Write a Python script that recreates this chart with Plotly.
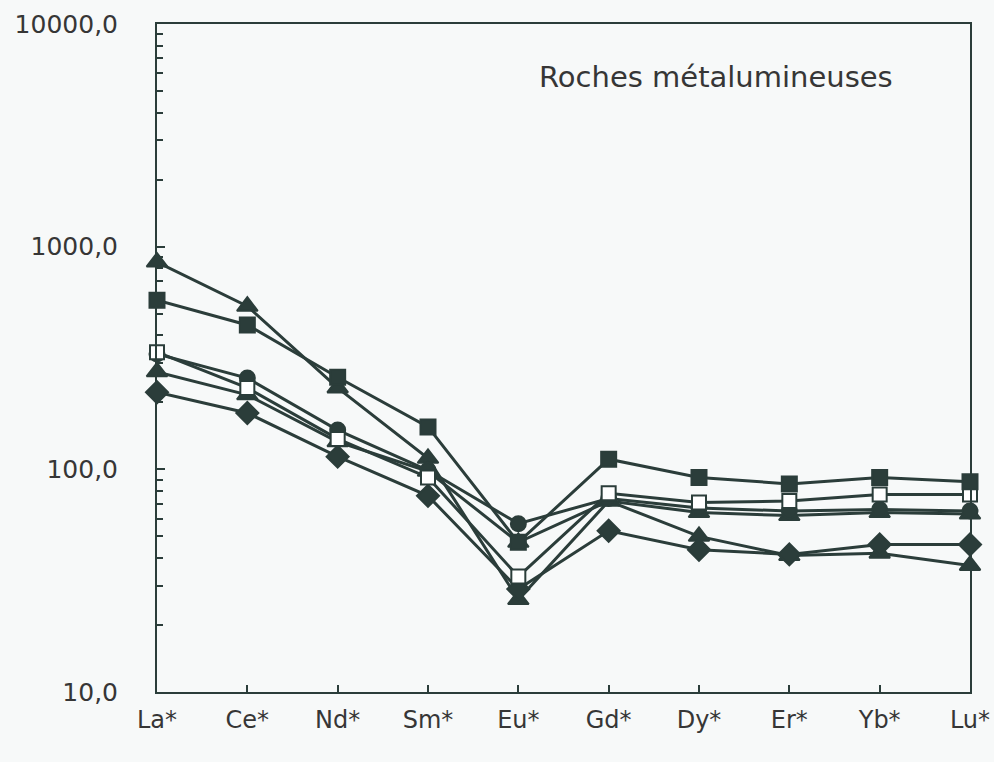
import plotly.graph_objects as go

elements = ["La*", "Ce*", "Nd*", "Sm*", "Eu*", "Gd*", "Dy*", "Er*", "Yb*", "Lu*"]

# chondrite-normalised REE
tri_high = [853, 540, 232, 112, 26, 72, 50, 41, 42, 37]
sq_filled = [575, 445, 259, 155, 47, 111, 92, 86, 92, 88]
sq_open = [336, 232, 137, 92, 33, 78, 71, 72, 77, 77]
circle = [330, 257, 150, 99, 57, 74, 67, 65, 66, 65]
tri_low = [274, 216, 133, 98, 47, 72, 64, 62, 64, 63]
diamond = [222, 179, 114, 76, 29, 53, 43.5, 41.5, 46, 46]

ytick_vals = [10, 100, 1000, 10000]
ytick_text = ["10,0", "100,0", "1000,0", "10000,0"]

ink = "#2b3d3a"
text_col = "#363636"
font_family = "DejaVu Sans, sans-serif"

series = [
    ("triangle A", tri_high, "triangle-up", 18, ink),
    ("triangle B", tri_low, "triangle-up", 18, ink),
    ("diamond", diamond, "diamond", 17, ink),
    ("circle", circle, "circle", 15, ink),
    ("open square", sq_open, "square", 14, "white"),
    ("filled square", sq_filled, "square", 15, ink),
]

fig = go.Figure()
for name, vals, sym, size, fill in series:
    fig.add_trace(go.Scatter(
        x=elements,
        y=vals,
        name=name,
        mode="lines+markers",
        line=dict(color=ink, width=3),
        marker=dict(symbol=sym, size=size, color=fill, line=dict(color=ink, width=2)),
        cliponaxis=False,
    ))

minor_vals = [k * 10 ** d for d in range(1, 4) for k in range(2, 10)]

fig.update_layout(
    width=994,
    height=762,
    margin=dict(l=157, r=24, t=24, b=70),
    paper_bgcolor="#f7f9f9",
    plot_bgcolor="#f7f9f9",
    showlegend=False,
    font=dict(family=font_family, size=24, color=text_col),
    xaxis=dict(
        type="category",
        range=[0, 9],
        automargin=False,
        showgrid=False,
        showline=True,
        linecolor=ink,
        linewidth=2,
        mirror=True,
        ticks="inside",
        ticklen=7,
        tickwidth=2,
        tickcolor=ink,
        ticklabelstandoff=5,
        tickfont=dict(size=24),
        zeroline=False,
    ),
    yaxis=dict(
        type="log",
        range=[1, 4],
        automargin=False,
        tickvals=ytick_vals,
        ticktext=ytick_text,
        showgrid=False,
        showline=True,
        linecolor=ink,
        linewidth=2,
        mirror=True,
        ticks="inside",
        ticklen=8,
        tickwidth=2,
        tickcolor=ink,
        ticklabelstandoff=32,
        tickfont=dict(size=25),
        minor=dict(tickvals=minor_vals, ticks="inside", ticklen=6, tickwidth=2, tickcolor=ink),
        zeroline=False,
    ),
    annotations=[dict(
        text="Roches métalumineuses",
        xref="paper", yref="paper",
        x=0.908, y=0.92,
        xanchor="right", yanchor="middle",
        showarrow=False,
        font=dict(size=29, color=text_col),
    )],
)

# drop the default 8px body margin so the figure fills the window exactly
fig.write_html(
    "out.html",
    config={"displayModeBar": False},
    post_script="document.body.style.margin = '0';",
)
